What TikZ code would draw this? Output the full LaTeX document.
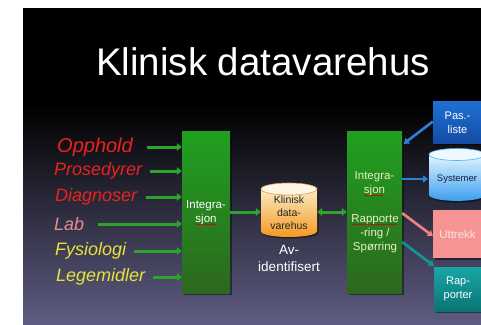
\documentclass[tikz,border=0pt]{standalone}
\usepackage{fontspec}
\setmainfont{Liberation Sans}
\usetikzlibrary{arrows.meta,shadows,decorations.pathmorphing,calc}

\definecolor{bgbot}{RGB}{94,92,130}
\definecolor{grntop}{RGB}{32,160,32}
\definecolor{grnbot}{RGB}{44,104,30}
\definecolor{grnarrow}{RGB}{44,164,44}
\definecolor{lblred}{RGB}{234,36,28}
\definecolor{lblpink}{RGB}{232,140,140}
\definecolor{lblyellow}{RGB}{232,226,58}
\definecolor{rtxtcol}{RGB}{232,240,196}
\definecolor{cyltop}{RGB}{252,234,196}
\definecolor{cylbot}{RGB}{242,150,24}
\definecolor{cylcap}{RGB}{253,246,232}
\definecolor{cylrim}{RGB}{226,160,80}
\definecolor{systop}{RGB}{226,246,255}
\definecolor{sysbot}{RGB}{52,154,238}
\definecolor{syscap}{RGB}{236,249,255}
\definecolor{sysrim}{RGB}{90,170,236}
\definecolor{sysnavy}{RGB}{20,30,70}
\definecolor{pastop}{RGB}{30,112,212}
\definecolor{pasbot}{RGB}{20,76,164}
\definecolor{uttfill}{RGB}{246,148,148}
\definecolor{utttxt}{RGB}{255,226,226}
\definecolor{raptop}{RGB}{26,166,166}
\definecolor{rapbot}{RGB}{10,116,116}
\definecolor{bluearrow}{RGB}{46,128,216}
\definecolor{pinkarrow}{RGB}{240,130,130}
\definecolor{tealarrow}{RGB}{16,150,150}

\tikzset{
  shadowed/.style={drop shadow={shadow xshift=1.5pt, shadow yshift=-1.5pt, opacity=0.45, fill=black}},
  gbox/.style={draw=none, top color=grntop, bottom color=grnbot, shadowed,
    minimum height=162pt, inner sep=0pt, align=center},
  lbl/.style={anchor=west, inner sep=0pt, font=\itshape\fontsize{18}{22}\selectfont},
  boxtxt/.style={align=center, inner sep=0pt, font=\fontsize{11.5}{14}\selectfont},
  sidebox/.style={draw=none, shadowed, minimum width=49pt, inner sep=0pt, align=center,
    font=\fontsize{11}{14}\selectfont},
  garrow/.style={draw=grnarrow, line width=3pt, -{Triangle[length=5pt,width=7.5pt]}},
  gdouble/.style={draw=grnarrow, line width=3pt, {Triangle[length=5pt,width=7.5pt]}-{Triangle[length=5pt,width=7.5pt]}},
  sarrow/.style={line width=2.6pt, -{Triangle[length=5pt,width=7pt]}},
  spell/.style={draw=red!80!black, line width=0.5pt, decorate,
    decoration={snake, amplitude=0.6pt, segment length=2.6pt}}
}

\begin{document}
\begin{tikzpicture}[x=1pt,y=-1pt]
\useasboundingbox (0,0) rectangle (481,324);
\fill[white] (0,0) rectangle (481,324);

\begin{scope}
\clip (23,8) rectangle (481,324);

% slide background
\fill[black] (23,8) rectangle (481,106);
\shade[top color=black, bottom color=bgbot] (23,105) rectangle (481,324);

% title
\node[anchor=base, text=white, inner sep=0pt, font=\fontsize{38.5}{46}\selectfont]
  (title) at (263,75) {Klinisk datavarehus};

% source labels
\node[lbl, text=lblred, font=\itshape\fontsize{20}{24}\selectfont] (opp) at (57,147) {Opphold};
\node[lbl, text=lblred] (pro) at (54,171) {Prosedyrer};
\node[lbl, text=lblred] (dia) at (55,197) {Diagnoser};
\node[lbl, text=lblpink] (lab) at (54,224) {Lab};
\node[lbl, text=lblyellow] (fys) at (55,251) {Fysiologi};
\node[lbl, text=lblyellow] (leg) at (56,277) {Legemidler};

% left integration box
\node[gbox, minimum width=48pt] (lbox) at (206,212) {};
\node[boxtxt, text=white] (ltxt) at (206,212.5) {Integra-\\sjon};

% clinical warehouse cylinder
\path[top color=cyltop, bottom color=cylbot, shadowed]
  (261,189) -- (261,231) .. controls (261,239) and (317,239) .. (317,231) -- (317,189) -- cycle;
\fill[cylcap, draw=cylrim, line width=0.6pt] (289,189) ellipse [x radius=28pt, y radius=6pt];
\node[minimum width=56pt, minimum height=54pt, inner sep=0pt] (kdv) at (289,210) {};
\node[align=center, inner sep=0pt, text=black!85, font=\fontsize{10.5}{12.8}\selectfont]
  (kdvtxt) at (289,213) {Klinisk\\data-\\varehus};
\node[align=center, inner sep=0pt, text=white, font=\fontsize{13.5}{17}\selectfont]
  (avid) at (289,258) {Av-\\identifisert};

% right integration / reporting box
\node[gbox, minimum width=55pt] (rbox) at (374.5,212) {};
\node[boxtxt, text=rtxtcol] (rint) at (374.5,183.5) {Integra-\\sjon};
\node[boxtxt, text=rtxtcol] (rrap) at (375,233.5) {Rapporte\\-ring /\\Spørring};

% spelling marks under words
\draw[spell] (196,224.5) -- (217,224.5);
\draw[spell] (364,195.5) -- (383,195.5);
\draw[spell] (351,224.5) -- (398,224.5);

% targets on the right
\node[sidebox, top color=pastop, bottom color=pasbot, minimum height=42pt, text=white]
  (pas) at (457.5,122.5) {Pas.-\\liste};

\path[top color=systop, bottom color=sysbot, shadowed]
  (429,154.5) -- (429,194.5) .. controls (429,203) and (485,203) .. (485,194.5) -- (485,154.5) -- cycle;
\fill[syscap, draw=sysrim, line width=0.6pt] (457,154.5) ellipse [x radius=28pt, y radius=6pt];
\node[inner sep=0pt, text=sysnavy, font=\fontsize{9.5}{12}\selectfont] (sys) at (457,179) {Systemer};
\coordinate (sysin) at (428,179);

\node[sidebox, fill=uttfill, minimum height=48pt, text=utttxt, font=\fontsize{11.5}{14}\selectfont]
  (utt) at (457.5,234) {Uttrekk};
\node[sidebox, top color=raptop, bottom color=rapbot, minimum height=44pt, minimum width=48pt, text=white]
  (rap) at (458,289) {Rap-\\porter};

% feeds into the left box
\draw[garrow] ([xshift=14pt]opp.east) -- (lbox.west |- opp.east);
\draw[garrow] ([xshift=8pt]pro.east) -- (lbox.west |- pro.east);
\draw[garrow] ([xshift=9pt]dia.east) -- (lbox.west |- dia.east);
\draw[garrow] ([xshift=14pt]lab.east) -- (lbox.west |- lab.east);
\draw[garrow] ([xshift=8pt]fys.east) -- (lbox.west |- fys.east);
\draw[garrow] ([xshift=8pt]leg.east) -- (lbox.west |- leg.east);

% warehouse links
\draw[garrow] (lbox.east) -- (kdv.west |- lbox.east);
\draw[gdouble] (kdv.east |- lbox.east) -- (rbox.west |- lbox.east);

% outputs on the right
\draw[sarrow, draw=bluearrow] ([yshift=1pt]pas.west) -- ($(rbox.north east)+(1.5,13)$);
\draw[sarrow, draw=bluearrow] (rbox.east |- sysin) -- (sysin);
\draw[sarrow, draw=pinkarrow] ($(rbox.east |- rrap.north)+(0,-1)$) -- ($(utt.west)+(0,2)$);
\draw[sarrow, draw=tealarrow] ($(rbox.east)+(0,30)$) -- ($(rap.north west)+(0,-1)$);
\end{scope}
\end{tikzpicture}
\end{document}
